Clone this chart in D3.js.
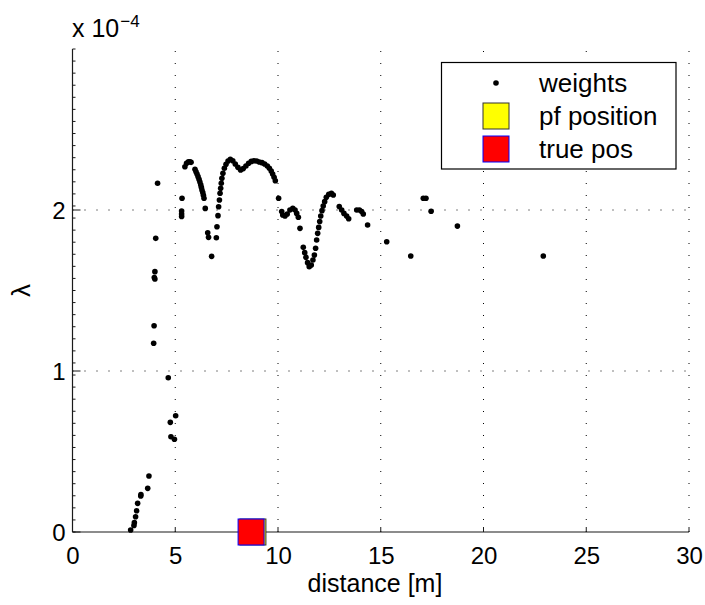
<!DOCTYPE html>
<html>
<head>
<meta charset="utf-8">
<script src="https://cdn.jsdelivr.net/npm/d3@7"></script>
<style>
  html, body { margin: 0; padding: 0; background: #fff; }
  svg text { font-family: "Liberation Sans", Arial, Helvetica, sans-serif; fill: #000; }
</style>
</head>
<body>
<svg id="chart" width="705" height="605"></svg>
<script>
// ---- data (y values in units of 1e-4) ----
const weightX = [
  2.83, 2.99, 3.01, 3.07, 3.12, 3.17, 3.32, 3.33, 3.66, 3.72,
  3.95, 3.97, 3.98, 4.01, 4.01, 4.05, 4.14,
  4.66, 4.76, 4.79, 4.96, 5.02,
  5.31, 5.31, 5.31, 5.33,
  5.47, 5.55, 5.64, 5.71, 5.77,
  5.96, 6.01, 6.06, 6.11, 6.16, 6.20, 6.24, 6.27, 6.30, 6.34, 6.37, 6.40,
  6.46, 6.58, 6.62, 6.77, 7.00, 7.03, 7.08,
  7.11, 7.15, 7.18, 7.21, 7.24, 7.27, 7.32, 7.39, 7.47, 7.57, 7.68,
  7.80, 7.92, 8.05, 8.18, 8.31, 8.44, 8.57, 8.70, 8.83, 8.96, 9.09, 9.22, 9.35, 9.48, 9.58, 9.67, 9.74, 9.81, 9.87,
  10.03, 10.18, 10.23, 10.34, 10.45, 10.58, 10.72, 10.83, 10.91, 10.99,
  11.07, 11.23, 11.30, 11.36, 11.44, 11.52, 11.62, 11.70, 11.77, 11.83, 11.88, 11.93, 11.98, 12.03, 12.08, 12.14, 12.20, 12.27, 12.35, 12.47, 12.60, 12.69,
  12.98, 13.10, 13.21, 13.34, 13.44,
  13.83, 13.96, 14.07, 14.15, 14.36,
  15.29, 16.46, 17.07, 17.20, 17.45, 18.73, 22.91
];
const weightY = [
  0.012, 0.040, 0.058, 0.095, 0.132, 0.178, 0.224, 0.232, 0.271, 0.348,
  1.172, 1.281, 1.580, 1.617, 1.571, 1.824, 2.166,
  0.958, 0.681, 0.592, 0.576, 0.722,
  1.960, 1.975, 1.994, 2.073,
  2.269, 2.290, 2.300, 2.300, 2.296,
  2.253, 2.238, 2.224, 2.207, 2.190, 2.174, 2.157, 2.141, 2.124, 2.108, 2.091, 2.073,
  2.010, 1.859, 1.830, 1.712, 1.828, 1.896, 1.965,
  2.020, 2.062, 2.104, 2.135, 2.166, 2.197, 2.228, 2.259, 2.284, 2.304, 2.315,
  2.306, 2.286, 2.265, 2.248, 2.257, 2.273, 2.290, 2.302, 2.306, 2.304, 2.298, 2.294, 2.286, 2.273, 2.259, 2.242, 2.224, 2.203, 2.182,
  2.073, 1.990, 1.969, 1.963, 1.975, 2.000, 2.010, 2.000, 1.979, 1.955,
  1.886, 1.768, 1.735, 1.706, 1.673, 1.648, 1.658, 1.689, 1.720, 1.762, 1.814, 1.855, 1.892, 1.928, 1.963, 1.996, 2.025, 2.052, 2.079, 2.097, 2.104, 2.093,
  2.021, 2.000, 1.979, 1.963, 1.946,
  2.000, 2.000, 1.990, 1.975, 1.907,
  1.803, 1.714, 2.073, 2.073, 1.992, 1.900, 1.714
];
const pfPosition = [8.78, 0];
const truePosition = [8.69, 0];
const xTicks = [0, 5, 10, 15, 20, 25, 30];
const yTicks = [0, 1, 2];
const legendLabels = ["weights", "pf position", "true pos"];

// ---- layout ----
const svg = d3.select("#chart");
const mLeft = 72.5, mRight = 689, mTop = 49, mBottom = 532;
const x = d3.scaleLinear().domain([0, 30]).range([mLeft, mRight]);
const y = d3.scaleLinear().domain([0, 3]).range([mBottom, mTop]);
const axisColor = "#1a1a1a";

// grid (dotted)
const grid = svg.append("g").attr("stroke", "#000").attr("stroke-width", 1)
  .attr("stroke-dasharray", "1,11");
xTicks.filter(d => d > 0).forEach(d => {
  grid.append("line").attr("x1", x(d)).attr("x2", x(d)).attr("y1", mBottom).attr("y2", mTop);
});
yTicks.filter(d => d > 0).forEach(d => {
  grid.append("line").attr("x1", mLeft).attr("x2", mRight).attr("y1", y(d)).attr("y2", y(d));
});

// x axis
const xAxis = d3.axisBottom(x).tickValues(xTicks).tickSize(0).tickPadding(0)
  .tickFormat(d3.format("d"));
const gx = svg.append("g").attr("transform", `translate(0,${mBottom})`).call(xAxis);
gx.select(".domain").remove();
gx.selectAll("text").attr("font-size", 24).attr("y", 32).attr("dy", null)
  .attr("font-family", "Liberation Sans, Arial, sans-serif");
svg.append("line").attr("x1", mLeft).attr("x2", mRight).attr("y1", mBottom).attr("y2", mBottom)
  .attr("stroke", axisColor).attr("stroke-width", 1.2);
svg.append("g").selectAll("line").data(xTicks).join("line")
  .attr("x1", d => x(d)).attr("x2", d => x(d)).attr("y1", mBottom).attr("y2", mBottom - 5)
  .attr("stroke", axisColor).attr("stroke-width", 1);

// y axis
const yAxis = d3.axisLeft(y).tickValues(yTicks).tickSize(0).tickPadding(7)
  .tickFormat(d3.format("d"));
const gy = svg.append("g").attr("transform", `translate(${mLeft},0)`).call(yAxis);
gy.select(".domain").remove();
gy.selectAll("text").attr("font-size", 24).attr("dy", "0.36em")
  .attr("font-family", "Liberation Sans, Arial, sans-serif");
svg.append("line").attr("x1", mLeft).attr("x2", mLeft).attr("y1", mTop).attr("y2", mBottom)
  .attr("stroke", axisColor).attr("stroke-width", 1.2);
const minorY = d3.range(0, 41).map(i => i * 3 / 40);
svg.append("g").selectAll("line").data(minorY).join("line")
  .attr("x1", mLeft).attr("x2", mLeft + 3).attr("y1", d => y(d)).attr("y2", d => y(d))
  .attr("stroke", axisColor).attr("stroke-width", 1);
svg.append("g").selectAll("line").data(yTicks).join("line")
  .attr("x1", mLeft).attr("x2", mLeft + 8).attr("y1", d => y(d)).attr("y2", d => y(d))
  .attr("stroke", axisColor).attr("stroke-width", 1);

// exponent label
const expo = svg.append("text").attr("x", 72).attr("y", 37).attr("font-size", 25);
expo.append("tspan").text("x 10");
expo.append("tspan").attr("dy", -10).attr("dx", 1).attr("font-size", 17).text("\u22124");

// axis labels
svg.append("text").attr("x", 375).attr("y", 592)
  .attr("text-anchor", "middle").attr("font-size", 25).text("distance [m]");
svg.append("text").attr("transform", `translate(30,${(mTop + mBottom) / 2}) rotate(-90)`)
  .attr("text-anchor", "middle").attr("font-size", 26)
  .attr("font-family", "DejaVu Serif, serif").text("\u03bb");

// weights
const pts = weightX.map((d, i) => [d, weightY[i]]);
svg.append("g").selectAll("circle").data(pts).join("circle")
  .attr("cx", d => x(d[0])).attr("cy", d => y(d[1])).attr("r", 2.8).attr("fill", "#000");

// position markers
const sq = 26;
svg.append("rect").attr("x", x(pfPosition[0]) - sq / 2).attr("y", y(pfPosition[1]) - sq / 2)
  .attr("width", sq).attr("height", sq).attr("fill", "#ffff00").attr("stroke", "#333").attr("stroke-width", 1);
svg.append("rect").attr("x", x(truePosition[0]) - sq / 2).attr("y", y(truePosition[1]) - sq / 2)
  .attr("width", sq).attr("height", sq).attr("fill", "#ff0000").attr("stroke", "#0000ff").attr("stroke-width", 1);

// legend
const lg = svg.append("g");
lg.append("rect").attr("x", 441.5).attr("y", 62.5).attr("width", 234.5).attr("height", 106.5)
  .attr("fill", "#fff").attr("stroke", "#000").attr("stroke-width", 1.2);
const rowY = [83, 116, 149];
lg.append("circle").attr("cx", 496).attr("cy", rowY[0]).attr("r", 2.8).attr("fill", "#000");
lg.append("rect").attr("x", 483).attr("y", rowY[1] - 13).attr("width", sq).attr("height", sq)
  .attr("fill", "#ffff00").attr("stroke", "#333").attr("stroke-width", 1);
lg.append("rect").attr("x", 483).attr("y", rowY[2] - 13).attr("width", sq).attr("height", sq)
  .attr("fill", "#ff0000").attr("stroke", "#0000ff").attr("stroke-width", 1);
lg.selectAll("text.lbl").data(legendLabels).join("text").attr("class", "lbl")
  .attr("x", 539).attr("y", (d, i) => rowY[i]).attr("dy", "0.35em")
  .attr("font-size", 26).text(d => d);
</script>
</body>
</html>
